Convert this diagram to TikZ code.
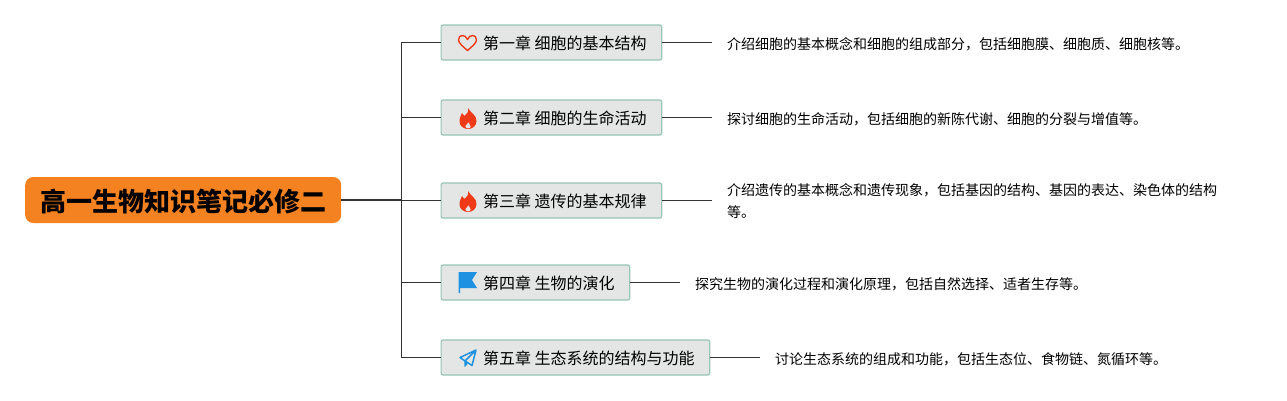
\documentclass[tikz,border=0pt]{standalone}
\usepackage{fontspec}
\setmainfont{Noto Sans CJK SC}
\definecolor{rootfill}{HTML}{F58220}
\definecolor{boxfill}{HTML}{E4E6E5}
\definecolor{boxline}{HTML}{98C4B4}
\definecolor{linkgray}{HTML}{333333}
\definecolor{iconred}{HTML}{EE3A17}
\definecolor{iconblue}{HTML}{1E92E0}

\tikzset{
    rootbox/.style={ fill=rootfill, rounded corners=8pt, minimum width=316pt, minimum height=46pt, font=\fontsize{26}{30}\selectfont\bfseries, inner sep=0pt, text height=22pt, text depth=0pt, anchor=west},
    chapbox/.style={ draw=boxline, fill=boxfill, line width=1.2pt, rounded corners=2pt, minimum height=35pt, inner ysep=0pt, inner xsep=15pt, text height=14pt, text depth=0pt, font=\fontsize{16}{20}\selectfont, anchor=west},
    note/.style={ anchor=west, inner xsep=15pt, inner ysep=0pt, align=left, font=\fontsize{14}{22}\selectfont},
    pil/.style={ draw=linkgray, line width=0.8pt},
    heartmark/.pic={
        \draw[iconred, line width=1.4pt, line join=round] (0,7.5) .. controls (-4,4) and (-9,0) .. (-9,-3) .. controls (-9,-9) and (-2,-9) .. (0,-3.5) .. controls (2,-9) and (9,-9) .. (9,-3) .. controls (9,0) and (4,4) .. (0,7.5) -- cycle;
    },
    flamemark/.pic={
        \fill[iconred, even odd rule] (0,-10.5) .. controls (2,-6) and (9.5,-3) .. (8.5,3) .. controls (8,8) and (4,10.5) .. (0,10.5) .. controls (-5,10.5) and (-8.5,7) .. (-8.5,3) .. controls (-8.5,-1) and (-7,-3) .. (-6,-5.5) .. controls (-5,-4) and (-4,-3) .. (-3.5,-2.5) .. controls (-1,-4.5) and (1,-7) .. (0,-10.5) -- cycle
            (0.5,3.5) .. controls (1,5.5) and (2.8,6.5) .. (2.8,8) .. controls (2.8,9.5) and (1.5,10) .. (0,10) .. controls (-1.5,10) and (-3,9) .. (-2.7,7.5) .. controls (-2.3,6) and (0,5.5) .. (0.5,3.5) -- cycle;
    },
    flagmark/.pic={
        \fill[iconblue] (-9.5,-10.5) -- (9,-10.5) -- (4,-2.5) -- (9,5.5) -- (-8,5.5) -- (-8,10.5) -- (-9.5,10.5) -- cycle;
    },
    planemark/.pic={
        \draw[iconblue, line width=1.5pt, line join=round] (8,-8) -- (-8,-0.5) -- (-3,3) -- (8,-8) -- (4,7.5) -- (-0.5,4.5) -- (-3,3) -- (-3,8) -- (-0.5,4.5);
    },
}

\begin{document}
\begin{tikzpicture}[x=1pt,y=-1pt]
\useasboundingbox (0,0) rectangle (1287,400);

% main topic
  \node[rootbox] (root) at (25,200) {高一生物知识笔记必修二};
  \coordinate (trunk) at (401,200);

% chapters
  \node[chapbox] (chap1) at (440.5,42.5)  {\hspace*{27pt}第一章 细胞的基本结构};
  \node[chapbox] (chap2) at (440.5,117.5) {\hspace*{27pt}第二章 细胞的生命活动};
  \node[chapbox] (chap3) at (440.5,200.5) {\hspace*{27pt}第三章 遗传的基本规律};
  \node[chapbox] (chap4) at (440.5,282.5) {\hspace*{27pt}第四章 生物的演化};
  \node[chapbox] (chap5) at (440.5,357.5) {\hspace*{27pt}第五章 生态系统的结构与功能};

% icons
  \pic at (467.5,43)  {heartmark};
  \pic at (468,118.5) {flamemark};
  \pic at (468,201.5) {flamemark};
  \pic at (468,282.5) {flagmark};
  \pic at (468,358)   {planemark};

% descriptions
  \node[note] (note1) at (712,44)  {介绍细胞的基本概念和细胞的组成部分，包括细胞膜、细胞质、细胞核等。};
  \node[note] (note2) at (712,119) {探讨细胞的生命活动，包括细胞的新陈代谢、细胞的分裂与增值等。};
  \node[note] (note3) at (712,201.5) {介绍遗传的基本概念和遗传现象，包括基因的结构、基因的表达、染色体的结构\\等。};
  \node[note] (note4) at (680,284) {探究生物的演化过程和演化原理，包括自然选择、适者生存等。};
  \node[note] (note5) at (760,359) {讨论生态系统的组成和功能，包括生态位、食物链、氮循环等。};

% trunk and branches
  \draw[pil, line width=1.2pt] (root.east) -- (trunk);
  \foreach \i in {1,...,5}{
      \draw[pil] (trunk) |- (chap\i.west);
      \draw[pil] (chap\i.east) -- (chap\i.east -| note\i.west);
  }

\end{tikzpicture}
\end{document}
